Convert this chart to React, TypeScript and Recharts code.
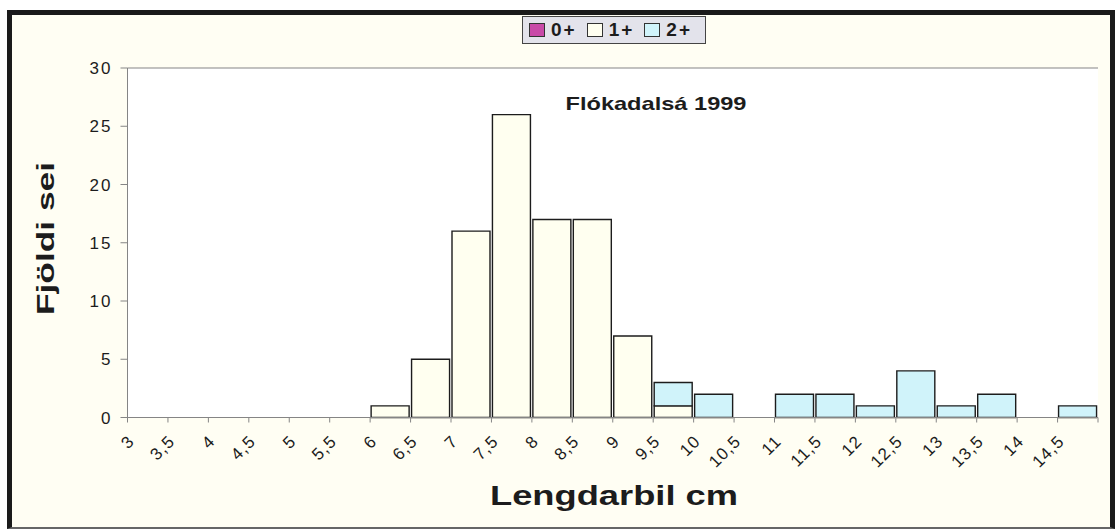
import { BarChart, Bar, XAxis, YAxis, CartesianGrid, Legend, Label } from 'recharts'

const categories = [
  '3', '3,5', '4', '4,5', '5', '5,5', '6', '6,5', '7', '7,5', '8', '8,5',
  '9', '9,5', '10', '10,5', '11', '11,5', '12', '12,5', '13', '13,5', '14', '14,5',
]
const zeroPlus = [0, 0, 0, 0, 0, 0, 0, 0, 0, 0, 0, 0, 0, 0, 0, 0, 0, 0, 0, 0, 0, 0, 0, 0]
const onePlus = [0, 0, 0, 0, 0, 0, 1, 5, 16, 26, 17, 17, 7, 1, 0, 0, 0, 0, 0, 0, 0, 0, 0, 0]
const twoPlus = [0, 0, 0, 0, 0, 0, 0, 0, 0, 0, 0, 0, 0, 2, 2, 0, 2, 2, 1, 4, 1, 2, 0, 1]
const yTicks = [0, 5, 10, 15, 20, 25, 30]

const data = categories.map((cat, i) => ({
  cat,
  zero: zeroPlus[i],
  one: onePlus[i],
  two: twoPlus[i],
}))

const FONT = "'Liberation Sans', Arial, sans-serif"
const INK = '#1c1c1c'
const AXIS = '#858585'

function CatTick(props: any) {
  const { x, y, payload, index } = props
  const half = payload?.offset ?? 20.2
  const left = x - half
  const ax = left + 4
  const ay = y + 21
  return (
    <g>
      <line x1={left} y1={y} x2={left} y2={y + 5} stroke={AXIS} />
      {index === categories.length - 1 && (
        <line x1={x + half} y1={y} x2={x + half} y2={y + 5} stroke={AXIS} />
      )}
      <text
        x={ax}
        y={ay}
        textAnchor="end"
        dominantBaseline="central"
        transform={`rotate(-45 ${ax} ${ay})`}
        fontFamily={FONT}
        fontSize={17}
        letterSpacing={1}
        fill={INK}
      >
        {payload.value}
      </text>
    </g>
  )
}

function LegendBox(props: any) {
  const items = props.payload || []
  return (
    <div
      style={{
        width: 184,
        height: 28,
        boxSizing: 'border-box',
        border: '1px solid #444',
        background: '#E3E3EB',
        display: 'flex',
        alignItems: 'center',
        paddingLeft: 6,
        fontFamily: FONT,
        fontWeight: 'bold',
        fontSize: 19,
        color: INK,
      }}
    >
      {items.map((it: any) => (
        <div key={it.value} style={{ display: 'flex', alignItems: 'center', marginRight: 10 }}>
          <span
            style={{
              display: 'inline-block',
              width: 14,
              height: 12,
              border: '1px solid #333',
              background: it.color,
              marginRight: 6,
            }}
          />
          <span style={{ letterSpacing: 2 }}>{it.value}</span>
        </div>
      ))}
    </div>
  )
}

export default function App() {
  return (
    <div style={{ position: 'absolute', left: 0, top: 0, width: 1117, height: 529, background: '#fff' }}>
      <div
        style={{
          position: 'absolute',
          left: 7,
          top: 10,
          width: 1108,
          height: 519,
          boxSizing: 'border-box',
          borderTop: '5px solid #1a1a1a',
          borderLeft: '5px solid #1a1a1a',
          borderRight: '5px solid #1a1a1a',
          borderBottom: '2px solid #666',
          background: '#FFFEF3',
        }}
      />
      <div style={{ position: 'absolute', left: 0, top: 0 }}>
        <BarChart
          width={1117}
          height={529}
          data={data}
          margin={{ top: 68, right: 19, left: 0, bottom: 11.5 }}
          barCategoryGap={1}
        >
          <CartesianGrid vertical={false} stroke={AXIS} fill="#ffffff" fillOpacity={1} />
          <XAxis
            dataKey="cat"
            interval={0}
            height={100}
            tickSize={0}
            tickMargin={0}
            tickLine={false}
            axisLine={{ stroke: AXIS }}
            tick={<CatTick />}
          >
            <Label
              content={() => (
                <text
                  x={614}
                  y={505}
                  textAnchor="middle"
                  fontFamily={FONT}
                  fontWeight="bold"
                  fontSize={28}
                  fill={INK}
                  textLength={248}
                  lengthAdjust="spacingAndGlyphs"
                >
                  Lengdarbil cm
                </text>
              )}
            />
          </XAxis>
          <YAxis
            yAxisId="left"
            width={127.5}
            domain={[0, 30]}
            ticks={yTicks}
            tickSize={7}
            tickMargin={8}
            axisLine={{ stroke: AXIS }}
            tickLine={{ stroke: AXIS }}
            tick={{ fontFamily: FONT, fontSize: 17, fill: INK, letterSpacing: 2 }}
          >
            <Label
              content={() => (
                <g>
                  <text
                    x={45}
                    y={238.5}
                    transform="rotate(-90 45 238.5)"
                    textAnchor="middle"
                    dominantBaseline="central"
                    fontFamily={FONT}
                    fontWeight="bold"
                    fontSize={24}
                    fill={INK}
                    textLength={153}
                    lengthAdjust="spacingAndGlyphs"
                  >
                    Fjöldi sei
                  </text>
                  <text
                    x={656}
                    y={110}
                    textAnchor="middle"
                    fontFamily={FONT}
                    fontWeight="bold"
                    fontSize={19}
                    fill={INK}
                    textLength={181}
                    lengthAdjust="spacingAndGlyphs"
                  >
                    Flókadalsá 1999
                  </text>
                </g>
              )}
            />
          </YAxis>
          <YAxis
            yAxisId="right"
            orientation="right"
            width={0}
            tick={false}
            tickLine={false}
            axisLine={{ stroke: AXIS }}
          />
          <Legend
            layout="horizontal"
            verticalAlign="middle"
            align="center"
            wrapperStyle={{ top: 16, left: 522, width: 184, height: 28 }}
            content={<LegendBox />}
          />
          <Bar yAxisId="left" dataKey="zero" name="0+" stackId="a" fill="#C94AA8" stroke={INK} strokeWidth={1.4} isAnimationActive={false} />
          <Bar yAxisId="left" dataKey="one" name="1+" stackId="a" fill="#FFFFF0" stroke={INK} strokeWidth={1.4} isAnimationActive={false} />
          <Bar yAxisId="left" dataKey="two" name="2+" stackId="a" fill="#D0F3FA" stroke={INK} strokeWidth={1.4} isAnimationActive={false} />
        </BarChart>
      </div>
    </div>
  )
}
